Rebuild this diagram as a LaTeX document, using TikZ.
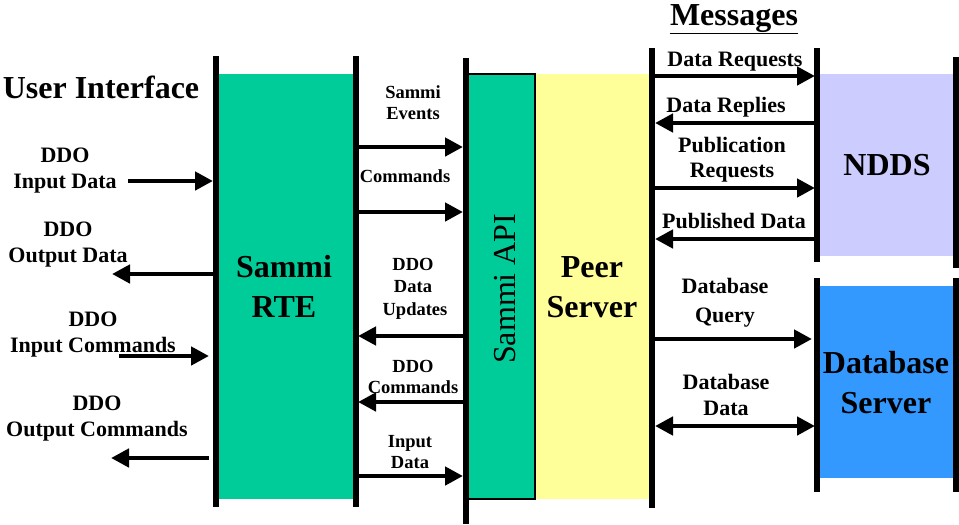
\documentclass[tikz,border=0pt]{standalone}
\usepackage{fontspec}
\setmainfont{Liberation Serif}
\usetikzlibrary{arrows.meta}
\definecolor{sgreen}{HTML}{00CC99}
\definecolor{peeryellow}{HTML}{FFFF99}
\definecolor{nddsblue}{HTML}{CCCCFF}
\definecolor{dbblue}{HTML}{3399FF}
\begin{document}
\begin{tikzpicture}[x=1pt,y=-1pt,
  lifeline/.style={line width=6pt},
  msg/.style={line width=4.5pt,-{Triangle[length=18pt,width=18pt]}},
  msgboth/.style={line width=4.5pt,{Triangle[length=18pt,width=18pt]}-{Triangle[length=18pt,width=18pt]}},
  lab/.style={font=\bfseries\fontsize{22}{26}\selectfont, inner sep=0pt, anchor=base},
  midlab/.style={font=\bfseries\fontsize{18.5}{21}\selectfont, inner sep=0pt, anchor=base},
  big/.style={font=\bfseries\fontsize{32}{40}\selectfont, inner sep=0pt, anchor=base}]
\useasboundingbox (0,0) rectangle (959,525);

% blocks
\fill[sgreen] (218,74) rectangle (353,499);
\fill[peeryellow] (535,74) rectangle (651,499);
\filldraw[fill=sgreen, draw=black, line width=1.7pt] (468,74) rectangle (535,499);
\fill[nddsblue] (820,74) rectangle (955,256);
\fill[dbblue] (820,286) rectangle (955,478);

% lifelines
\coordinate (l1t) at (216,56);  \coordinate (l1b) at (216,507);
\coordinate (l2t) at (356,56);  \coordinate (l2b) at (356,507);
\coordinate (l3t) at (466,58);  \coordinate (l3b) at (466,524);
\coordinate (l4t) at (652,48);  \coordinate (l4b) at (652,508);
\coordinate (l5t) at (817,48);  \coordinate (l5b) at (817,262);
\coordinate (l6t) at (956,57);  \coordinate (l6b) at (956,268);
\coordinate (l7t) at (817,278); \coordinate (l7b) at (817,492);
\coordinate (l8t) at (956,278); \coordinate (l8b) at (956,492);
\foreach \i in {1,...,8} \draw[lifeline] (l\i t) -- (l\i b);

% titles
\node[big] (ui) at (101,98) {User Interface};
\node[big] (msgs) at (734,25) {\underline{Messages}};
\node[big] (rte1) at (284,277) {Sammi};
\node[big] (rte2) at (284,317) {RTE};
\node[font=\fontsize{32}{40}\selectfont, inner sep=0pt, rotate=90, anchor=base west] (api) at (515,364) {Sammi API};
\node[big] (peer1) at (592,277) {Peer};
\node[big] (peer2) at (592,317) {Server};
\node[big] (ndds) at (887,175) {NDDS};
\node[big] (db1) at (886,373) {Database};
\node[big] (db2) at (886,413) {Server};

% user interface side
\coordinate (a1s) at (128,181); \coordinate (a1e) at (213,181);
\coordinate (a2s) at (213,274); \coordinate (a2e) at (112,274);
\coordinate (a3s) at (119,356); \coordinate (a3e) at (209,356);
\coordinate (a4s) at (209,458); \coordinate (a4e) at (111,458);
\draw[msg] (a1s) -- (a1e);
\draw[msg] (a2s) -- (a2e);
\draw[msg] (a3s) -- (a3e);
\draw[msg] (a4s) -- (a4e);
\node[lab] (t1a) at (65,162) {DDO};
\node[lab] (t1b) at (65,188) {Input Data};
\node[lab] (t2a) at (68,236) {DDO};
\node[lab] (t2b) at (68,262) {Output Data};
\node[lab] (t3a) at (93,326) {DDO};
\node[lab] (t3b) at (93,352) {Input Commands};
\node[lab] (t4a) at (97,410) {DDO};
\node[lab] (t4b) at (97,436) {Output Commands};

% RTE <-> API
\coordinate (b1s) at (359,147); \coordinate (b1e) at (463,147);
\coordinate (b2s) at (359,212); \coordinate (b2e) at (463,212);
\coordinate (b3s) at (463,336); \coordinate (b3e) at (358,336);
\coordinate (b4s) at (463,402); \coordinate (b4e) at (358,402);
\coordinate (b5s) at (359,476); \coordinate (b5e) at (463,476);
\draw[msg] (b1s) -- (b1e);
\draw[msg] (b2s) -- (b2e);
\draw[msg] (b3s) -- (b3e);
\draw[msg] (b4s) -- (b4e);
\draw[msg] (b5s) -- (b5e);
\node[midlab] (s1a) at (413,98) {Sammi};
\node[midlab] (s1b) at (413,119) {Events};
\node[midlab] (s2a) at (405,182) {Commands};
\node[midlab] (s3a) at (413,270) {DDO};
\node[midlab] (s3b) at (413,292) {Data};
\node[midlab] (s3c) at (415,315) {Updates};
\node[midlab] (s4a) at (413,372) {DDO};
\node[midlab] (s4b) at (413,393) {Commands};
\node[midlab] (s5a) at (410,447) {Input};
\node[midlab] (s5b) at (410,468) {Data};

% Peer server <-> NDDS / DB
\coordinate (c1s) at (655,76);  \coordinate (c1e) at (815,76);
\coordinate (c2s) at (815,123); \coordinate (c2e) at (655,123);
\coordinate (c3s) at (655,188); \coordinate (c3e) at (815,188);
\coordinate (c4s) at (815,239); \coordinate (c4e) at (655,239);
\coordinate (c5s) at (655,339); \coordinate (c5e) at (812,339);
\coordinate (c6s) at (655,426); \coordinate (c6e) at (815,426);
\draw[msg] (c1s) -- (c1e);
\draw[msg] (c2s) -- (c2e);
\draw[msg] (c3s) -- (c3e);
\draw[msg] (c4s) -- (c4e);
\draw[msg] (c5s) -- (c5e);
\draw[msgboth] (c6s) -- (c6e);
\node[lab] (r1) at (735,66) {Data Requests};
\node[lab] (r2) at (726,112) {Data Replies};
\node[lab] (r3a) at (732,152) {Publication};
\node[lab] (r3b) at (732,177) {Requests};
\node[lab] (r4) at (734,228) {Published Data};
\node[lab] (r5a) at (725,293) {Database};
\node[lab] (r5b) at (725,322) {Query};
\node[lab] (r6a) at (726,389) {Database};
\node[lab] (r6b) at (726,415) {Data};
\end{tikzpicture}
\end{document}
